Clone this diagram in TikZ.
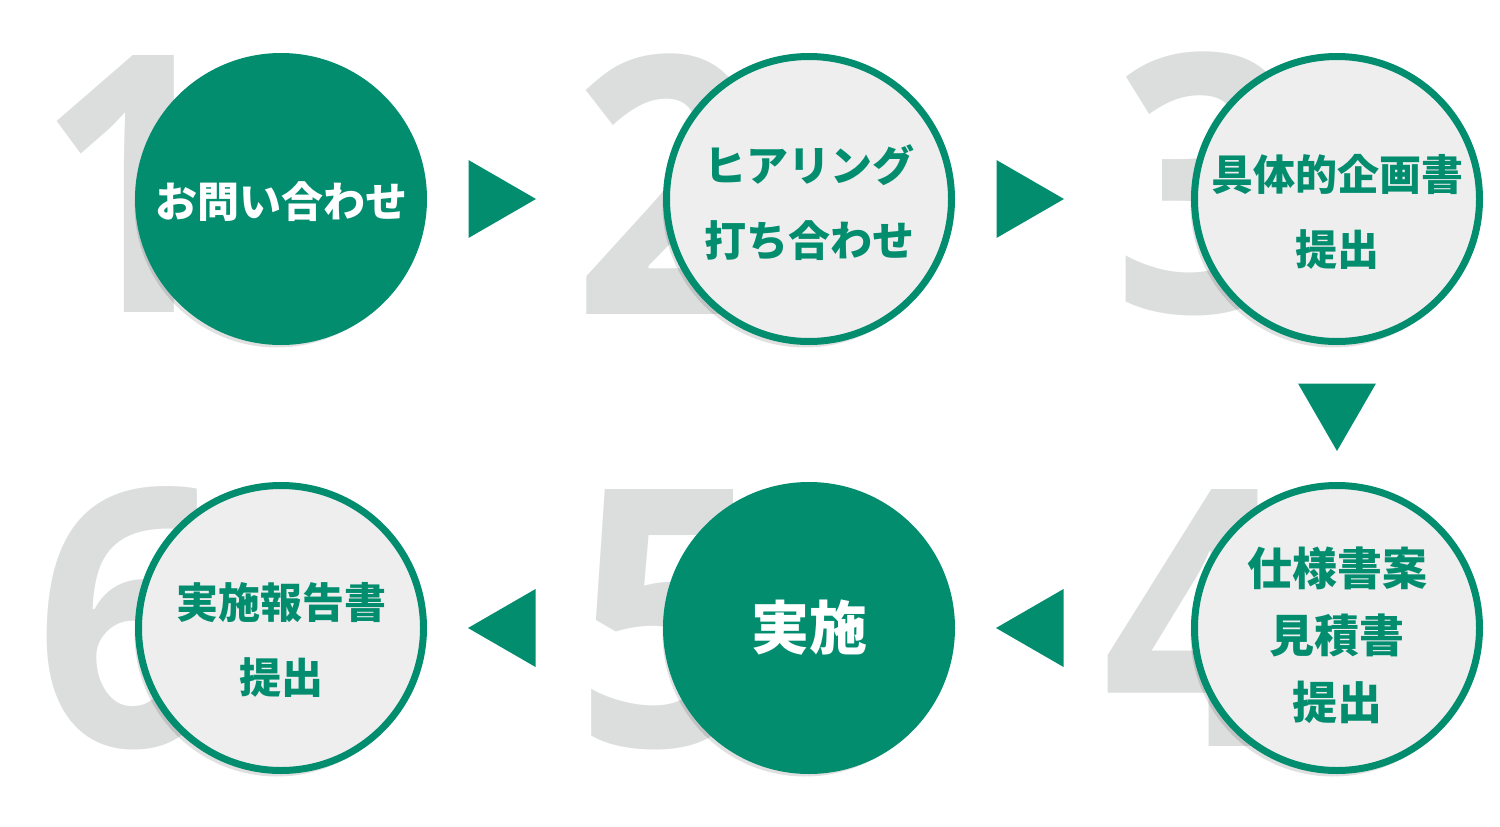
\documentclass[tikz,border=0pt]{standalone}
\usepackage{fontspec}
\setmainfont{Open Sans}
\newfontfamily\jpfont{Noto Sans CJK JP}
\usetikzlibrary{shapes.geometric,shadows}

\definecolor{stepgreen}{RGB}{3,141,111}
\definecolor{steplight}{RGB}{238,238,238}
\definecolor{digitgray}{RGB}{220,221,221}

\begin{document}
\begin{tikzpicture}[x=1pt,y=-1pt,
  bignum/.style={font=\fontsize{360}{360}\selectfont\bfseries,text=digitgray,inner sep=0pt,anchor=base,xscale=0.92},
  ring/.style={circle,draw=stepgreen,line width=7pt,fill=steplight,minimum size=285pt,inner sep=0pt,
    drop shadow={shadow xshift=-4pt,shadow yshift=-6pt,opacity=0.12,fill=black}},
  solid/.style={ring,fill=stepgreen},
  label/.style={text=stepgreen,align=center,inner sep=0pt,font=\jpfont\bfseries\fontsize{42}{75}\selectfont},
  tri/.style={regular polygon,regular polygon sides=3,fill=stepgreen,minimum size=90pt,inner sep=0pt}]
\useasboundingbox (0,0) rectangle (1500,827);
% numbers behind the circles
\node[bignum] (n1) at (132,312) {1};
\node[bignum] (n2) at (668,314) {2};
\node[bignum] (n3) at (1208,312) {3};
\node[bignum] (n4) at (1197,746) {4};
\node[bignum] (n5) at (670,746) {5};
\node[bignum] (n6) at (130,746) {6};
% steps
\node[solid] (c1) at (281,199) {};
\node[ring] (c2) at (809,199) {};
\node[ring] (c3) at (1337,199) {};
\node[ring] (c4) at (1337,628) {};
\node[solid] (c5) at (809,628) {};
\node[ring] (c6) at (281,628) {};
% texts
\node[label,text=white] (t1) at ([yshift=-3pt]c1) {お問い合わせ};
\node[label] (t2) at ([yshift=-4pt]c2) {ヒアリング\\打ち合わせ};
\node[label] (t3) at ([yshift=-13pt]c3) {具体的企画書\\提出};
\node[label,font=\jpfont\bfseries\fontsize{45}{67}\selectfont] (t4) at ([yshift=-7pt]c4) {仕様書案\\見積書\\提出};
\node[label,text=white,font=\jpfont\bfseries\fontsize{58}{70}\selectfont] (t5) at (c5) {実施};
\node[label] (t6) at ([yshift=-12pt]c6) {実施報告書\\提出};
% arrows
\node[tri,rotate=-90] (a12) at (491,199) {};
\node[tri,rotate=-90] (a23) at (1019,199) {};
\node[tri,rotate=180] (a34) at (1337,406) {};
\node[tri,rotate=90] (a45) at (1041,628) {};
\node[tri,rotate=90] (a56) at (513,628) {};
\end{tikzpicture}
\end{document}
